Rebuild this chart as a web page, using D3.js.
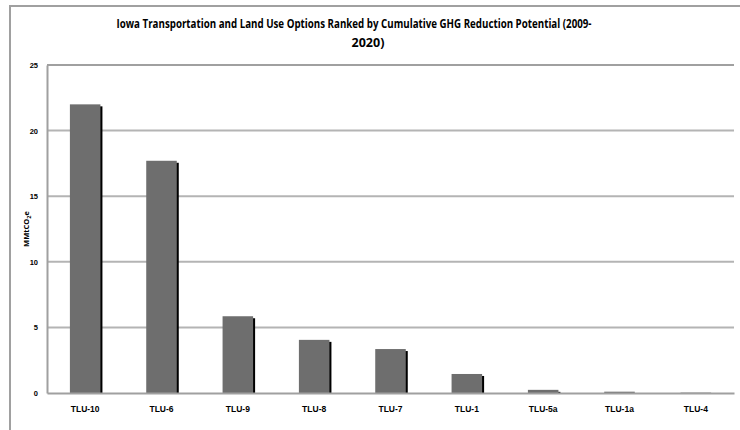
<!DOCTYPE html>
<html>
<head>
<meta charset="utf-8">
<script src="https://cdn.jsdelivr.net/npm/d3@7"></script>
<style>
  body { margin: 0; background: #fff; }
  text { font-family: "Liberation Sans Narrow", "Open Sans", sans-serif; font-weight: bold; fill: #000; }
</style>
</head>
<body>
<script>
// chart data
var categories = ["TLU-10", "TLU-6", "TLU-9", "TLU-8", "TLU-7", "TLU-1", "TLU-5a", "TLU-1a", "TLU-4"];
var values = [22.0, 17.7, 5.85, 4.05, 3.35, 1.45, 0.24, 0.1, 0.03];
var yTicks = [0, 5, 10, 15, 20, 25];

var W = 740, H = 430;
var margin = { top: 65, right: 6, bottom: 37, left: 47 },
    width = W - margin.left - margin.right,
    height = H - margin.top - margin.bottom;
var font = "'Liberation Sans Narrow', sans-serif";

var root = d3.select("body").append("svg")
    .attr("width", W)
    .attr("height", H);

// outer frame
root.append("rect")
    .attr("x", 10).attr("y", 6)
    .attr("width", W + 20).attr("height", H + 20)
    .attr("fill", "none")
    .attr("stroke", "#a0a0a0")
    .attr("stroke-width", 2);

// title
root.append("text")
    .attr("x", 354).attr("y", 28)
    .attr("text-anchor", "middle")
    .attr("font-size", 12.5)
    .attr("textLength", 475)
    .attr("lengthAdjust", "spacingAndGlyphs")
    .text("Iowa Transportation and Land Use Options Ranked by Cumulative GHG Reduction Potential (2009-");
root.append("text")
    .attr("x", 368).attr("y", 47)
    .attr("text-anchor", "middle")
    .attr("font-size", 12.5)
    .text("2020)");

var svg = root.append("g")
    .attr("transform", "translate(" + margin.left + "," + margin.top + ")");

var x = d3.scaleBand()
    .domain(categories)
    .range([0, width])
    .paddingInner(0.6)
    .paddingOuter(0.3);

var y = d3.scaleLinear()
    .domain([0, 25])
    .range([height, 0]);

// gridlines
svg.append("g")
    .selectAll("line")
    .data(yTicks.slice(1))
    .enter()
    .append("line")
    .attr("x1", 0).attr("x2", width)
    .attr("y1", function (d) { return y(d); })
    .attr("y2", function (d) { return y(d); })
    .attr("stroke", function (d) { return d === 25 ? "#a0a0a0" : "#b4b4b4"; })
    .attr("stroke-width", 2);

// y axis
var yAxis = svg.append("g")
    .call(d3.axisLeft(y).tickValues(yTicks).tickSize(0).tickPadding(9));
yAxis.select(".domain").attr("stroke", "#a0a0a0").attr("stroke-width", 2);
yAxis.selectAll("text").attr("font-size", 7.5).style("font-family", font).style("font-weight", "bold");

// bar shadows
svg.append("g")
    .selectAll("rect")
    .data(values)
    .enter()
    .append("rect")
    .attr("x", function (d, i) { return x(categories[i]) + 2; })
    .attr("y", function (d) { return y(d) + 2; })
    .attr("width", x.bandwidth())
    .attr("height", function (d) { return Math.max(0, height - y(d) - 2); })
    .attr("fill", "#000");

// bars
svg.append("g")
    .selectAll("rect")
    .data(values)
    .enter()
    .append("rect")
    .attr("x", function (d, i) { return x(categories[i]); })
    .attr("y", function (d) { return y(d); })
    .attr("width", x.bandwidth())
    .attr("height", function (d) { return height - y(d); })
    .attr("fill", "#6e6e6e");

// x axis
var xAxis = svg.append("g")
    .attr("transform", "translate(0," + height + ")")
    .call(d3.axisBottom(x).tickSize(0).tickPadding(13));
xAxis.select(".domain").attr("stroke", "#a0a0a0").attr("stroke-width", 2);
xAxis.selectAll("text").attr("font-size", 8.5).style("font-family", font).style("font-weight", "bold");

// y label
var yl = root.append("text")
    .attr("transform", "translate(29," + (margin.top + height / 2) + ") rotate(-90)")
    .attr("text-anchor", "middle")
    .attr("font-size", 7.5);
yl.append("tspan").text("MMtCO");
yl.append("tspan").attr("font-size", 5.5).attr("dy", 1.5).text("2");
yl.append("tspan").attr("dy", -1.5).text("e");
</script>
</body>
</html>
